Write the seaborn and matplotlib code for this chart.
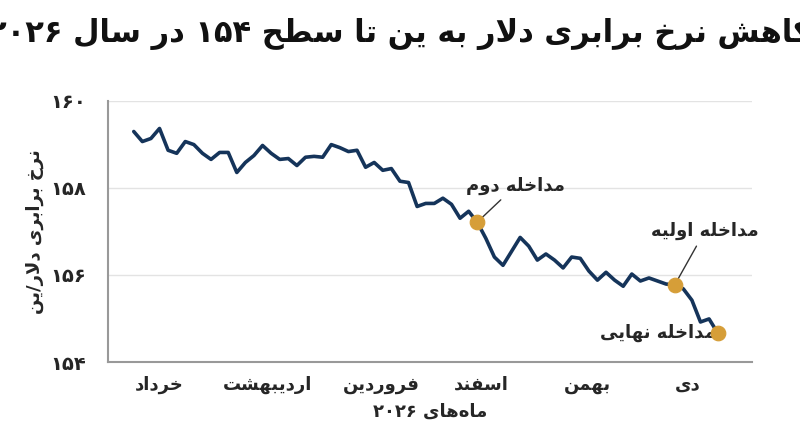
import matplotlib
matplotlib.use("Agg")
import matplotlib.pyplot as plt
import seaborn as sns
import pandas as pd

values = [159.29,159.06,159.13,159.36,158.86,158.79,159.06,158.99,158.79,158.65,
          158.81,158.81,158.35,158.58,158.74,158.97,158.79,158.65,158.67,158.51,
          158.70,158.72,158.70,158.99,158.92,158.83,158.86,158.47,158.58,158.40,
          158.44,158.15,158.12,157.57,157.64,157.64,157.76,157.62,157.30,157.46,
          157.21,156.84,156.41,156.22,156.54,156.86,156.66,156.34,156.48,156.34,
          156.16,156.41,156.38,156.09,155.88,156.06,155.88,155.74,156.02,155.86,
          155.93,155.86,155.79,155.77,155.68,155.42,154.92,154.99,154.67]
month_labels = ["خرداد", "اردیبهشت", "فروردین", "اسفند", "بهمن", "دی"]
month_pos = [3, 15.6, 28.8, 40.5, 52.8, 64.5]
ytick_vals = [154, 156, 158, 160]
ytick_labels = ["۱۵۴", "۱۵۶", "۱۵۸", "۱۶۰"]
events = ["مداخله دوم", "مداخله اولیه", "مداخله نهایی"]
event_idx = [40, 63, 68]
title = "کاهش نرخ برابری دلار به ین تا سطح ۱۵۴ در سال ۲۰۲۶"
ylabel = "نرخ برابری دلار/ین"
xlabel = "ماه\u200cهای ۲۰۲۶"

# --- minimal Arabic/Persian shaping ---
FORMS = {
 'ا':(0xFE8D,0xFE8E,None,None),'ب':(0xFE8F,0xFE90,0xFE91,0xFE92),'ت':(0xFE95,0xFE96,0xFE97,0xFE98),
 'ح':(0xFEA1,0xFEA2,0xFEA3,0xFEA4),'خ':(0xFEA5,0xFEA6,0xFEA7,0xFEA8),'د':(0xFEA9,0xFEAA,None,None),
 'ذ':(0xFEAB,0xFEAC,None,None),'ر':(0xFEAD,0xFEAE,None,None),'ز':(0xFEAF,0xFEB0,None,None),
 'س':(0xFEB1,0xFEB2,0xFEB3,0xFEB4),'ش':(0xFEB5,0xFEB6,0xFEB7,0xFEB8),'ط':(0xFEC1,0xFEC2,0xFEC3,0xFEC4),
 'ع':(0xFEC9,0xFECA,0xFECB,0xFECC),'ف':(0xFED1,0xFED2,0xFED3,0xFED4),'ل':(0xFEDD,0xFEDE,0xFEDF,0xFEE0),
 'م':(0xFEE1,0xFEE2,0xFEE3,0xFEE4),'ن':(0xFEE5,0xFEE6,0xFEE7,0xFEE8),'ه':(0xFEE9,0xFEEA,0xFEEB,0xFEEC),
 'و':(0xFEED,0xFEEE,None,None),'ی':(0xFBFC,0xFBFD,0xFBFE,0xFBFF),'ک':(0xFB8E,0xFB8F,0xFB90,0xFB91),
 'پ':(0xFB56,0xFB57,0xFB58,0xFB59),
}
def shape(s):
    s = s.replace('لا', '\uE000')
    forms = dict(FORMS); forms['\uE000'] = (0xFEFB, 0xFEFC, None, None)
    out = []
    n = len(s)
    for i, c in enumerate(s):
        if c not in forms:
            out.append(c); continue
        f = forms[c]
        prev = s[i-1] if i > 0 else ''
        nxt = s[i+1] if i < n-1 else ''
        jp = prev in forms and forms[prev][2] is not None
        jn = nxt in forms and f[2] is not None
        if jp and jn: k = 3
        elif jp: k = 1
        elif jn: k = 2
        else: k = 0
        out.append(chr(f[k]))
    r = ''.join(out).replace('\u200c', '')[::-1]
    res, run = [], []
    for ch in r:
        if '\u06f0' <= ch <= '\u06f9':
            run.append(ch)
        else:
            res.extend(run[::-1]); run = []; res.append(ch)
    res.extend(run[::-1])
    return ''.join(res)

sns.set_theme(style="white")
plt.rcParams['font.family'] = ['DejaVu Sans']

df = pd.DataFrame({"i": range(len(values)), "v": values})
navy = "#15345a"
gold = "#d69e38"

fig, ax = plt.subplots(figsize=(8, 4.47), dpi=100)
fig.subplots_adjust(left=0.135, right=0.94, top=0.775, bottom=0.19)
ax.yaxis.grid(True, color="#e3e3e3", lw=1)
sns.lineplot(data=df, x="i", y="v", color=navy, lw=2.6, ax=ax)
ev = df.iloc[event_idx]
sns.scatterplot(x=ev["i"], y=ev["v"], color=gold, s=110, zorder=5, edgecolor=gold, ax=ax)

text_pos = [(44.5, 158.05), (66.5, 157.0), (61.0, 154.67)]
for ix, name, (tx, ty) in zip(event_idx, events, text_pos):
    v = values[ix]
    if ix != event_idx[-1]:
        ax.annotate(shape(name), xy=(ix, v), xytext=(tx, ty), ha="center", va="center",
                    fontsize=13, fontweight="bold", annotation_clip=False,
                    arrowprops=dict(arrowstyle="-", color="#333333", lw=1, shrinkB=4))
    else:
        ax.text(tx, ty, shape(name), ha="center", va="center", fontsize=13, fontweight="bold")

ax.set_xlim(-3, 72)
ax.set_ylim(154, 160)
ax.set_yticks(ytick_vals)
ax.set_yticklabels(ytick_labels, fontsize=14, fontweight="bold")
ax.set_xticks(month_pos)
ax.set_xticklabels([shape(m) for m in month_labels], fontsize=13, fontweight="bold")
ax.tick_params(axis="y", length=0, pad=16)
ax.tick_params(axis="x", length=0, pad=10)
ax.set_xlabel(shape(xlabel), fontsize=13, fontweight="bold", labelpad=6)
ax.set_ylabel(shape(ylabel), fontsize=13, fontweight="bold", labelpad=4)
for s in ["top", "right"]:
    ax.spines[s].set_visible(False)
for s in ["left", "bottom"]:
    ax.spines[s].set_color("#999999"); ax.spines[s].set_linewidth(1.5)
fig.text(0.5, 0.925, shape(title), ha="center", va="center", fontsize=22, fontweight="bold", color="#111111")
fig.savefig("out.png", dpi=100)
